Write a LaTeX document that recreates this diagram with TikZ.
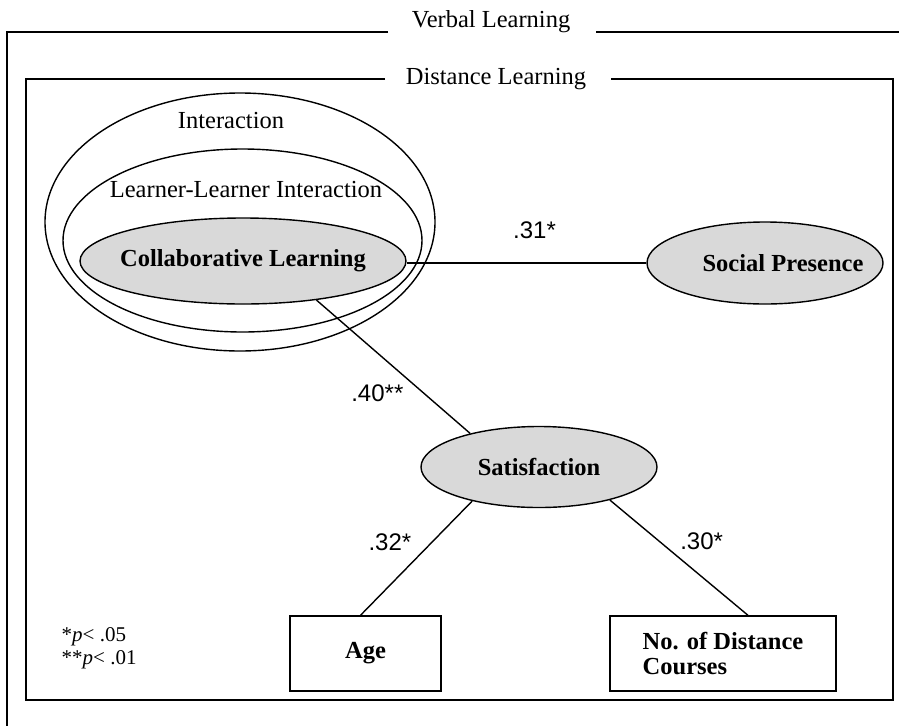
\documentclass[tikz,border=0pt]{standalone}
\usepackage{fontspec}
\setmainfont{Liberation Serif}
\newfontfamily\coeffont{Liberation Sans}
\usetikzlibrary{shapes.geometric,positioning}

\begin{document}
\begin{tikzpicture}[x=1pt,y=-1pt,line width=1.4pt,
  every node/.style={font=\fontsize{24.5}{25}\selectfont},
  ring/.style={draw,ellipse,inner sep=0pt},
  latent/.style={draw,ellipse,fill=black!15,inner sep=0pt,
    font=\fontsize{24.5}{25}\selectfont\bfseries},
  observed/.style={draw,rectangle,inner sep=0pt,
    font=\fontsize{24.5}{25}\selectfont\bfseries},
  coef/.style={inner sep=0pt,font=\fontsize{24}{25}\selectfont\coeffont}]
  \useasboundingbox (0,0) rectangle (899,726);

  % frames
  \draw (388,32) -- (7,32) -- (7,726);
  \draw (596,32) -- (899,32);
  \draw (385,79) -- (26,79) -- (26,700) -- (893,700) -- (893,79) -- (611,79);
  \node (verbal) at (491,22) {Verbal Learning};
  \node (distance) at (496,79) {Distance Learning};

  % nested areas
  \node (interaction)
        [ring,minimum width=390pt,minimum height=258pt] at (240,222)
        {};
  \node (learner)
        [ring,minimum width=359pt,minimum height=183pt] at (242.5,240.5)
        {};
  \node (interactionText) at (231,121) {Interaction};
  \node (learnerText) at (246,190) {Learner-Learner Interaction};

  % variables
  \node (collab)
        [latent,minimum width=326pt,minimum height=86pt] at (243,261)
        {\makebox[0pt]{Collaborative Learning}};
  \node (social)
        [latent,minimum width=236pt,minimum height=82pt] at (765,263)
        {\makebox[0pt]{\hspace{36pt}Social Presence}};
  \node (satisf)
        [latent,minimum width=236pt,minimum height=81pt] at (539,467)
        {Satisfaction};
  \node (age)
        [observed,minimum width=151pt,minimum height=75pt] at (365.5,653.5)
        {Age};
  \node (courses)
        [observed,minimum width=226pt,minimum height=75pt,align=left] at (723,653.5)
        {No. of Distance\\Courses};

  \node (note)
        [anchor=west,align=left,inner sep=0pt,font=\fontsize{21}{23}\selectfont] at (61,648)
        {*\textit{p}< .05\\**\textit{p}< .01};

  \draw (social.west -| collab.east) -- node[coef,above=24pt,xshift=8pt] {.31*} (social.west);
  \draw (collab.-28) -- node[coef,pos=0.7,left=20pt] {.40**} (satisf.154);
  \draw (satisf.207) -- node[coef,pos=0.36,left=20pt] {.32*} ([xshift=-5pt]age.north);
  \draw (satisf.-25) -- node[coef,pos=0.36,right=20pt] {.30*} ([xshift=25pt]courses.north);
\end{tikzpicture}
\end{document}
